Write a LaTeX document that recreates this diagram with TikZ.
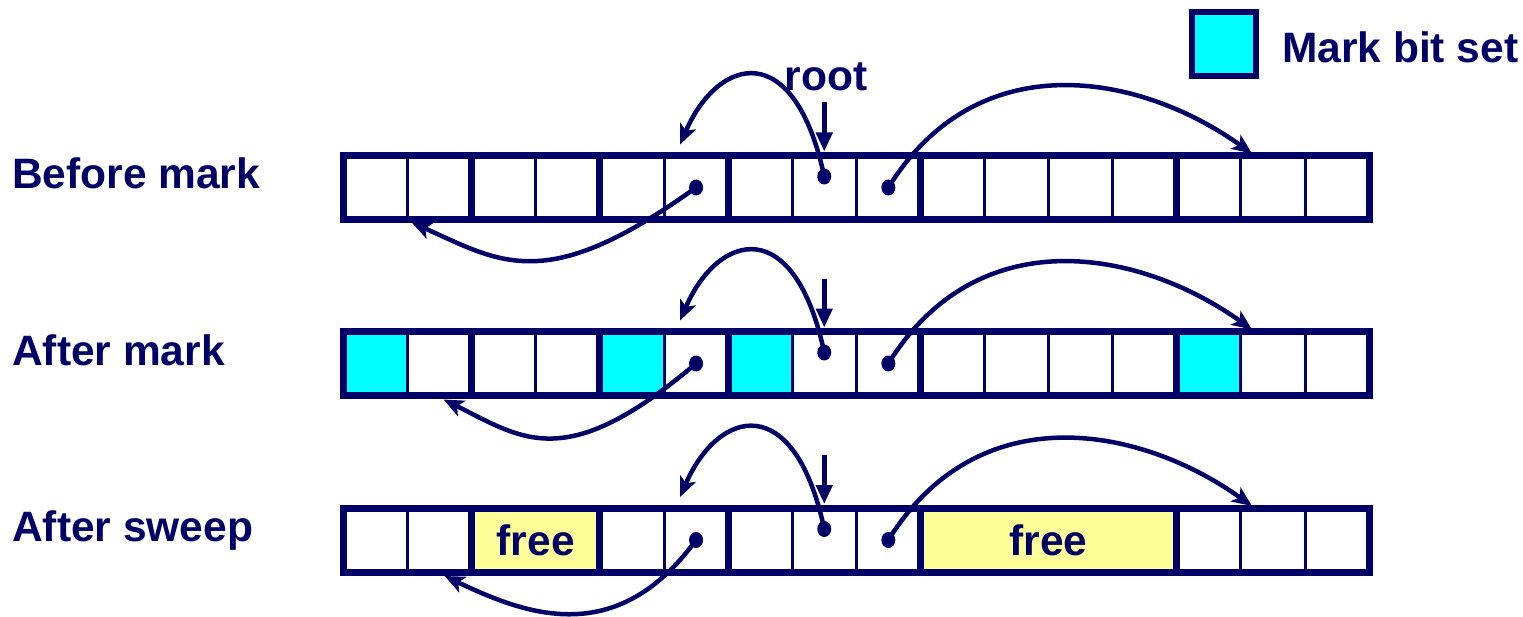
\documentclass[tikz,border=0pt]{standalone}
\usepackage{fontspec}
\setmainfont{Liberation Sans}
\usetikzlibrary{arrows.meta,calc}
\definecolor{navy}{RGB}{0,0,102}
\definecolor{markcyan}{RGB}{0,255,255}
\definecolor{freeyellow}{RGB}{255,255,153}
\begin{document}
\begin{tikzpicture}[x=1bp,y=-1bp,
  cell/.style={draw=navy, line width=3bp, minimum width=64.1bp, minimum height=64bp, inner sep=0pt, outer sep=0pt, fill=white},
  markcell/.style={cell, fill=markcyan},
  freecell/.style={cell, fill=freeyellow, font=\fontsize{42.5bp}{50bp}\selectfont\bfseries, text=navy},
  block/.style={draw=navy, line width=7bp},
  lbl/.style={font=\fontsize{42.5bp}{50bp}\selectfont\bfseries, text=navy, inner sep=0pt, anchor=base west},
  ptr/.style={draw=navy, line width=4.5bp, -{Stealth[length=20bp,width=17bp,inset=5bp]}},
  rootarrow/.style={draw=navy, line width=4.5bp, -{Triangle[length=19bp,width=16bp]}},
  dotmark/.style={fill=navy}
]
\useasboundingbox (0,0) rectangle (1523,617);

% ---------- labels ----------
\node[lbl] (lb1) at (12,189) {Before mark};
\node[lbl] (lb2) at (12,365) {After mark};
\node[lbl] (lb3) at (12,541) {After sweep};

% ---------- legend ----------
\node[markcell, line width=6bp, minimum width=64bp] (leg) at (1224,44) {};
\node[lbl] (legtxt) at (1282,63) {Mark bit set};

% ---------- row 1 ----------
\foreach \k in {1,...,16}
  \node[cell] (a\k) at ({343.5+64.1*(\k-0.5)},187.5) {};
\foreach \i/\j in {1/2,3/4,5/6,7/9,10/13,14/16}
  \draw[block] (a\i.north west) rectangle (a\j.south east);

% ---------- row 2 ----------
\foreach \k in {1,...,16}
  \node[cell] (b\k) at ({343.5+64.1*(\k-0.5)},363.5) {};
\foreach \k in {1,5,7,14}
  \node[markcell] at (b\k) {};
\foreach \i/\j in {1/2,3/4,5/6,7/9,10/13,14/16}
  \draw[block] (b\i.north west) rectangle (b\j.south east);

% ---------- row 3 ----------
\foreach \k in {1,2,5,6,7,8,9,14,15,16}
  \node[cell] (c\k) at ({343.5+64.1*(\k-0.5)},540) {};
\node[freecell, minimum width=128.2bp] (free1) at (535.8,540) {free};
\node[freecell, minimum width=256.4bp] (free2) at (1048.6,540) {free};
\draw[block] (c1.north west) rectangle (c2.south east);
\draw[block] (free1.north west) rectangle (free1.south east);
\draw[block] (c5.north west) rectangle (c6.south east);
\draw[block] (c7.north west) rectangle (c9.south east);
\draw[block] (free2.north west) rectangle (free2.south east);
\draw[block] (c14.north west) rectangle (c16.south east);

% ---------- pointers, per row ----------
\foreach \r/\tip/\six/\eight/\nine/\fift/\bx/\by/\cax/\cay/\cbx/\cby in
  {a/a2.south west/a6/a8/a9/a15/4/3/-150/108/90/40,
   b/b2.south/b6/b8/b9/b15/4/4/-130/110/80/40,
   c/c2.south/c6/c8/c9/c15/5/4/-80/110/80/38}{
  \coordinate (\r d6) at (\six.center);
  \coordinate (\r d8) at ($(\eight.center)+(0,-11)$);
  \coordinate (\r d9) at (\nine.center);
  \coordinate (\r tl) at ($(\six.north)+(-16,-11)$);
  \coordinate (\r tr) at ($(\fift.north)+(-21,-2)$);
  \coordinate (\r tb) at ($(\tip)+(\bx,\by)$);
  \coordinate (\r rt) at ($(\eight.north)+(0,-4)$);
  \coordinate (\r rs) at ($(\eight.north)+(0,-53)$);
  \draw[ptr] (\r d8) .. controls ($(\r d8)+(-30,-140)$) and ($(\r tl)+(38,-88)$) .. (\r tl);
  \draw[ptr] (\r d9) .. controls ($(\r d9)+(90,-145)$) and ($(\r tr)+(-112,-80)$) .. (\r tr);
  \draw[ptr] (\r d6) .. controls ($(\r d6)+(\cax,\cay)$) and ($(\r tb)+(\cbx,\cby)$) .. (\r tb);
  \draw[rootarrow] (\r rs) -- (\r rt);
  \foreach \d in {d6,d8,d9}
    \fill[dotmark] (\r\d) ellipse [x radius=7bp, y radius=8bp];
}

\node[font=\fontsize{42.5bp}{50bp}\selectfont\bfseries, text=navy, inner sep=0pt, anchor=base] (root) at (826,91) {root};
\end{tikzpicture}
\end{document}
